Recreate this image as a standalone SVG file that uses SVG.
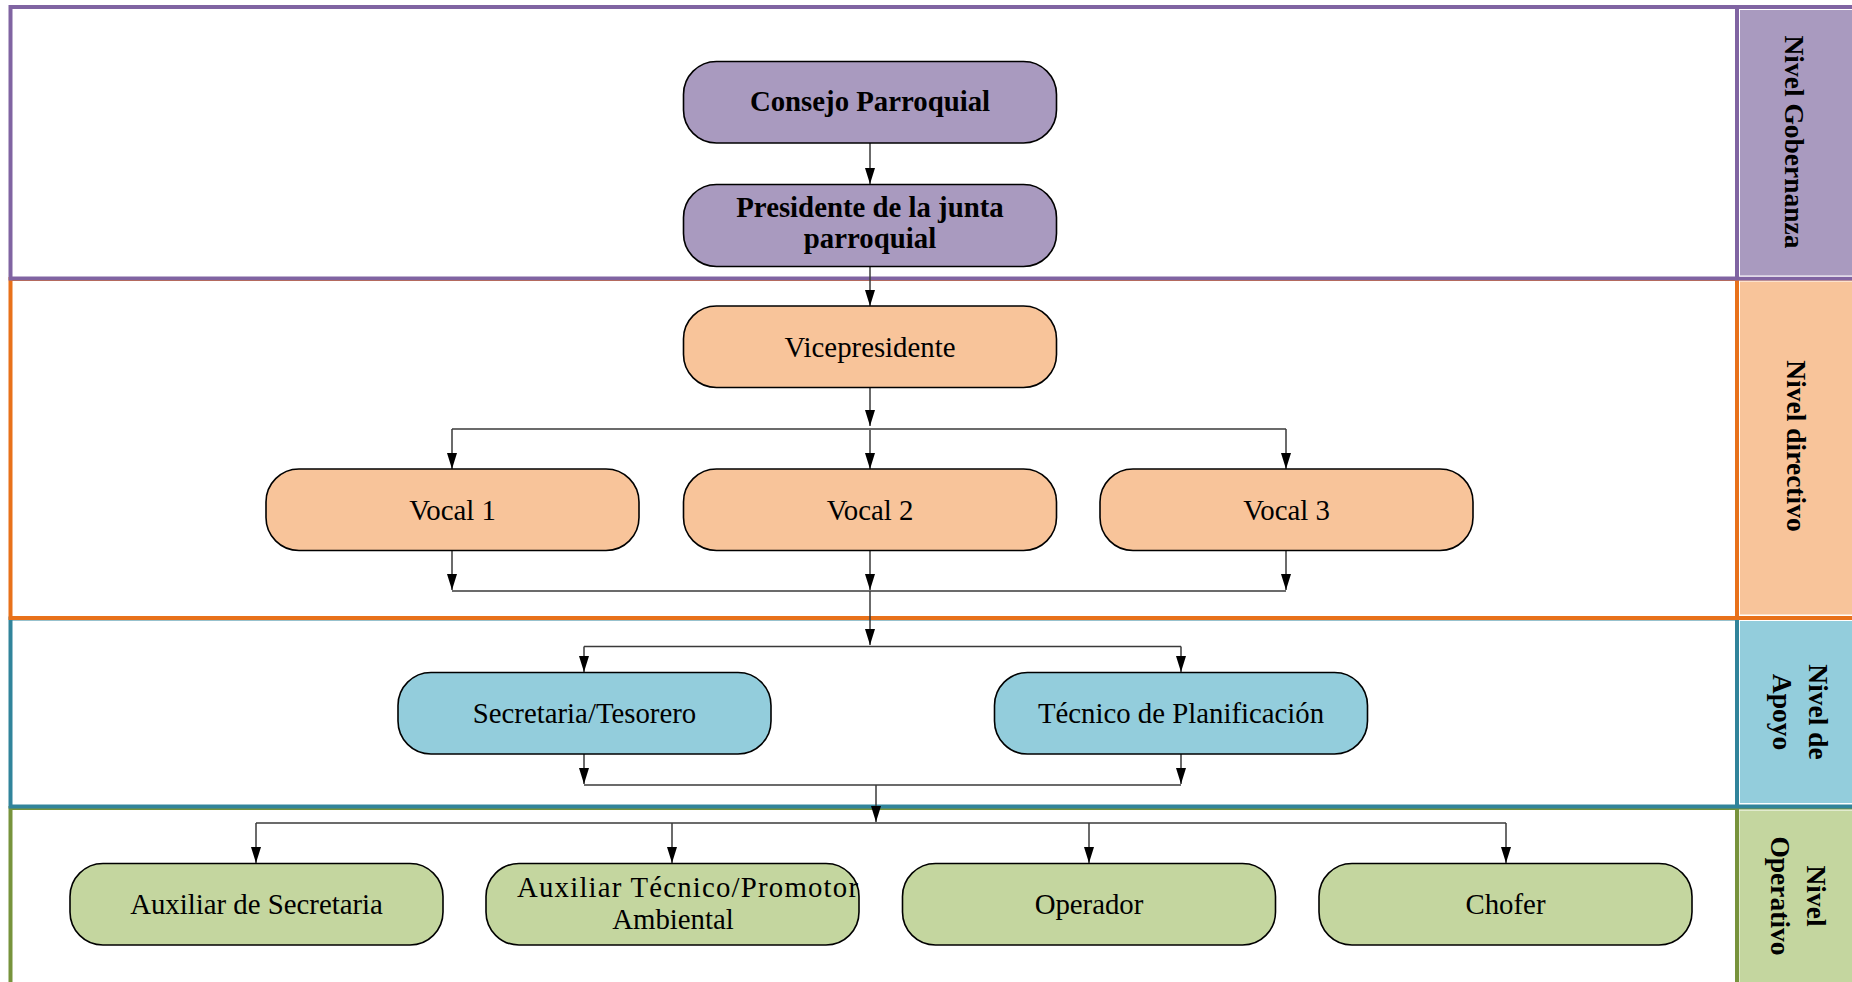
<svg xmlns="http://www.w3.org/2000/svg" width="1852" height="982" viewBox="0 0 1852 982">
  <style>
    .frame { fill: #ffffff; stroke-width: 4; }
    .node { stroke: #000000; stroke-width: 1.6; }
    .gob { fill: #A99ABF; }
    .dir { fill: #F8C49A; }
    .apo { fill: #93CDDC; }
    .ope { fill: #C4D69F; }
    .label { font-family: "Liberation Serif", "Times New Roman", serif; font-size: 28.8px; fill: #000000; text-anchor: middle; }
    .bold { font-weight: bold; }
    .side { font-family: "Liberation Serif", "Times New Roman", serif; font-size: 27.5px; font-weight: bold; fill: #000000; text-anchor: middle; }
    .conn { fill: none; stroke: #3a3a3a; stroke-width: 1.5; }
  </style>
  <defs>
    <marker id="arrow" viewBox="0 0 16 10" refX="16" refY="5" markerWidth="16" markerHeight="10" markerUnits="userSpaceOnUse" orient="auto">
      <path d="M0,0 L16,5 L0,10 z" fill="#000000"/>
    </marker>
  </defs>

  <rect width="1852" height="982" fill="#ffffff"/>

  <!-- Level bands, drawn bottom-up so each upper band's lower border sits on top -->
  <g id="band-operativo">
    <rect class="frame" x="10.5" y="808" width="1860" height="190" stroke="#77933C"/>
    <rect x="1739" y="810" width="120" height="180" fill="#C4D69F" stroke="#ffffff" stroke-width="1"/>
    <line x1="1737" y1="806" x2="1737" y2="990" stroke="#77933C" stroke-width="4"/>
    <text class="side" transform="translate(1807,896) rotate(90)"><tspan x="0" y="0">Nivel</tspan><tspan x="0" y="36">Operativo</tspan></text>
  </g>
  <g id="band-apoyo">
    <rect class="frame" x="10.5" y="618.5" width="1860" height="188" stroke="#31849B"/>
    <rect x="1739.5" y="620.5" width="120" height="183" fill="#93CDDC" stroke="#ffffff" stroke-width="1"/>
    <line x1="1737" y1="617" x2="1737" y2="808" stroke="#31849B" stroke-width="4"/>
    <text class="side" transform="translate(1809,712) rotate(90)"><tspan x="0" y="0">Nivel de</tspan><tspan x="0" y="36">Apoyo</tspan></text>
  </g>
  <g id="band-directivo">
    <rect class="frame" x="10.5" y="279" width="1860" height="339" stroke="#E8711A"/>
    <rect x="1739.5" y="281" width="120" height="334" fill="#F8C49A" stroke="#ffffff" stroke-width="1"/>
    <line x1="1737" y1="279" x2="1737" y2="619" stroke="#E8711A" stroke-width="4"/>
    <text class="side" transform="translate(1787,446) rotate(90)">Nivel directivo</text>
  </g>
  <g id="band-gobernanza">
    <rect class="frame" x="10.5" y="7" width="1860" height="271.5" stroke="#8064A2"/>
    <rect x="1739.5" y="9.5" width="120" height="266.5" fill="#A99ABF" stroke="#ffffff" stroke-width="1"/>
    <line x1="1737" y1="6" x2="1737" y2="280" stroke="#8064A2" stroke-width="4"/>
    <text class="side" transform="translate(1785,142) rotate(90)">Nivel Gobernanza</text>
  </g>

  <!-- Connectors -->
  <g id="connectors">
    <path class="conn" d="M870,143 V184" marker-end="url(#arrow)"/>
    <path class="conn" d="M870,267 V306" marker-end="url(#arrow)"/>
    <path class="conn" d="M870,387 V426" marker-end="url(#arrow)"/>
    <path class="conn" d="M452,429 H1286"/>
    <path class="conn" d="M452,429 V469" marker-end="url(#arrow)"/>
    <path class="conn" d="M870,430 V469" marker-end="url(#arrow)"/>
    <path class="conn" d="M1286,429 V469" marker-end="url(#arrow)"/>
    <path class="conn" d="M452,550 V590" marker-end="url(#arrow)"/>
    <path class="conn" d="M870,550 V590" marker-end="url(#arrow)"/>
    <path class="conn" d="M1286,550 V590" marker-end="url(#arrow)"/>
    <path class="conn" d="M452,591 H1286"/>
    <path class="conn" d="M870,591 V645" marker-end="url(#arrow)"/>
    <path class="conn" d="M584,646.5 H1181"/>
    <path class="conn" d="M584,646.5 V672" marker-end="url(#arrow)"/>
    <path class="conn" d="M1181,646.5 V672" marker-end="url(#arrow)"/>
    <path class="conn" d="M584,754 V784" marker-end="url(#arrow)"/>
    <path class="conn" d="M1181,754 V784" marker-end="url(#arrow)"/>
    <path class="conn" d="M584,785 H1181"/>
    <path class="conn" d="M876,785 V822" marker-end="url(#arrow)"/>
    <path class="conn" d="M256,823 H1506"/>
    <path class="conn" d="M256,823 V863" marker-end="url(#arrow)"/>
    <path class="conn" d="M672,823 V863" marker-end="url(#arrow)"/>
    <path class="conn" d="M1089,823 V863" marker-end="url(#arrow)"/>
    <path class="conn" d="M1506,823 V863" marker-end="url(#arrow)"/>
  </g>

  <!-- Nodes -->
  <g id="consejo">
    <rect class="node gob" x="683.5" y="61.5" width="373" height="81.5" rx="33" ry="33"/>
    <text class="label bold" x="870" y="111">Consejo Parroquial</text>
  </g>
  <g id="presidente">
    <rect class="node gob" x="683.5" y="184.5" width="373" height="82" rx="33" ry="33"/>
    <text class="label bold" x="870" y="217">Presidente de la junta</text>
    <text class="label bold" x="870" y="248">parroquial</text>
  </g>
  <g id="vicepresidente">
    <rect class="node dir" x="683.5" y="306" width="373" height="81.5" rx="33" ry="33"/>
    <text class="label" x="870" y="357">Vicepresidente</text>
  </g>
  <g id="vocal1">
    <rect class="node dir" x="266" y="469" width="373" height="81.5" rx="33" ry="33"/>
    <text class="label" x="452.5" y="520">Vocal 1</text>
  </g>
  <g id="vocal2">
    <rect class="node dir" x="683.5" y="469" width="373" height="81.5" rx="33" ry="33"/>
    <text class="label" x="870" y="520">Vocal 2</text>
  </g>
  <g id="vocal3">
    <rect class="node dir" x="1100" y="469" width="373" height="81.5" rx="33" ry="33"/>
    <text class="label" x="1286.5" y="520">Vocal 3</text>
  </g>
  <g id="secretaria">
    <rect class="node apo" x="398" y="672.5" width="373" height="81.5" rx="33" ry="33"/>
    <text class="label" x="584.5" y="723">Secretaria/Tesorero</text>
  </g>
  <g id="tecnico-planificacion">
    <rect class="node apo" x="994.5" y="672.5" width="373" height="81.5" rx="33" ry="33"/>
    <text class="label" x="1181" y="723">Técnico de Planificación</text>
  </g>
  <g id="auxiliar-secretaria">
    <rect class="node ope" x="70" y="863.5" width="373" height="81.5" rx="33" ry="33"/>
    <text class="label" x="256.5" y="914">Auxiliar de Secretaria</text>
  </g>
  <g id="auxiliar-tecnico">
    <rect class="node ope" x="486" y="863.5" width="373" height="81.5" rx="33" ry="33"/>
    <!-- first line is justified across the box width -->
    <text class="label" x="517" y="897" text-anchor="start" style="text-anchor:start" textLength="341" lengthAdjust="spacing">Auxiliar Técnico/Promotor</text>
    <text class="label" x="673" y="929">Ambiental</text>
  </g>
  <g id="operador">
    <rect class="node ope" x="902.5" y="863.5" width="373" height="81.5" rx="33" ry="33"/>
    <text class="label" x="1089" y="914">Operador</text>
  </g>
  <g id="chofer">
    <rect class="node ope" x="1319" y="863.5" width="373" height="81.5" rx="33" ry="33"/>
    <text class="label" x="1505.5" y="914">Chofer</text>
  </g>
</svg>
